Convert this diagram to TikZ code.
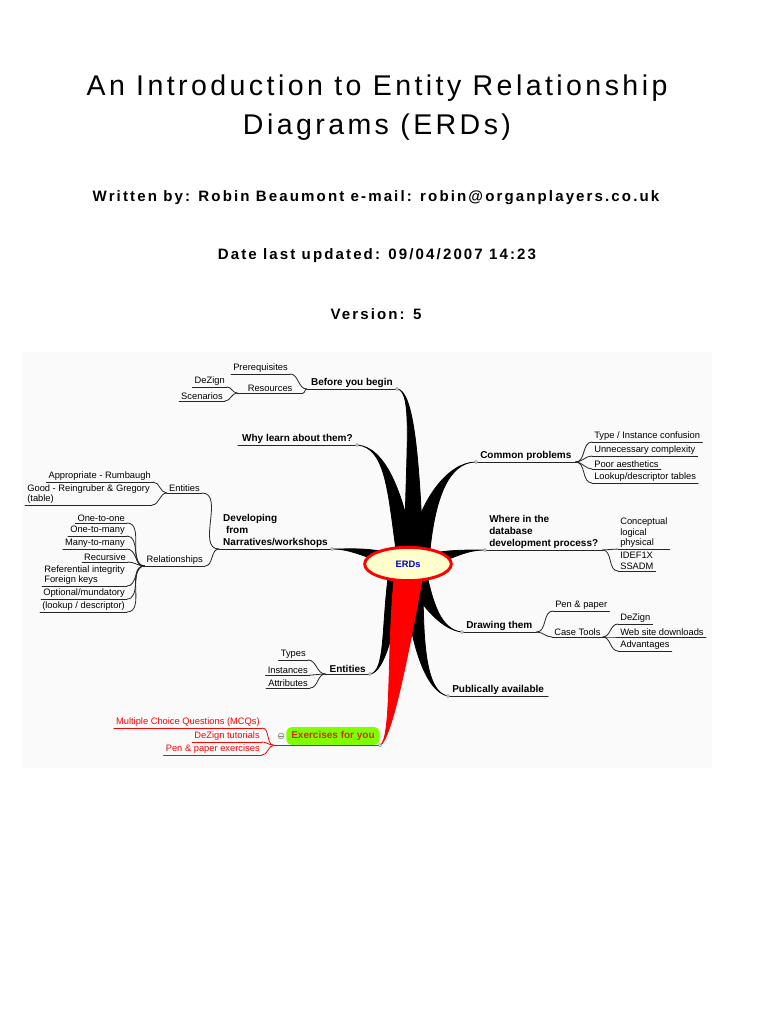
\documentclass[tikz,border=0pt]{standalone}
\usepackage{fontspec}
\setmainfont{Liberation Sans}
\newfontfamily\titlefont[LetterSpace=12]{Liberation Sans}
\newfontfamily\headfont[LetterSpace=14]{Liberation Sans Bold}
\usetikzlibrary{calc,shapes.geometric}
\definecolor{exgreen}{RGB}{128,255,0}
\definecolor{exred}{RGB}{204,51,0}
\definecolor{erdfill}{RGB}{255,255,204}
\newcommand{\trunk}[6][black]{\filldraw[#1,line width=0.6pt] (#2) .. controls (#3) and ($(#4)+0.8*(#6)$) .. ($(erd)+(#5)+(#6)$) -- ($(erd)+(#5)-(#6)$) .. controls ($(#4)-0.8*(#6)$) and (#3) .. (#2) -- cycle;}

\begin{document}
\begin{tikzpicture}[x=0.75pt,y=-0.75pt,line cap=round,
  leaf/.style={font=\fontsize{7}{7.8}\selectfont,inner xsep=1.5pt,inner ysep=1pt,align=left},
  topic/.style={font=\bfseries\fontsize{7.5}{9}\selectfont,inner xsep=3pt,inner ysep=1pt,align=left},
  ul/.style={append after command={(\tikzlastnode.south west) edge[draw=#1,line width=0.6pt] (\tikzlastnode.south east)}},
  ul/.default=black!85,
  link/.style={line width=0.6pt,black!85},
  knob/.style={draw=gray,fill=white,line width=0.4pt}]
\useasboundingbox (0,0) rectangle (768,1024);
\fill[black!2] (22,352) rectangle (712,768);
\node[font=\titlefont\fontsize{21.4}{29.3}\selectfont,align=center] (title) at (377,108) {An Introduction to Entity Relationship\\Diagrams (ERDs)};
\node[font=\headfont\fontsize{11.3}{13}\selectfont,anchor=base] (author) at (376,201) {Written by: Robin Beaumont e-mail: robin@organplayers.co.uk};
\node[font=\headfont\fontsize{11.3}{13}\selectfont,anchor=base] (date) at (377,259) {Date last updated: 09/04/2007 14:23};
\node[font=\headfont\fontsize{11.3}{13}\selectfont,anchor=base] (version) at (376,319) {Version: 5};
\coordinate (erd) at (408,564);
\node[topic,ul,anchor=south east] (before) at (397,389) {Before you begin};
\node[topic,ul,anchor=south east] (why) at (357,445) {Why learn about them?};
\node[topic,ul,anchor=south east] (develop) at (332,549) {Developing\\\ from\\Narratives/workshops};
\node[topic,ul,anchor=south east] (entities) at (370,674) {Entities};
\node[topic,ul,anchor=south west] (common) at (476,462) {Common problems};
\node[topic,ul,anchor=south west] (where) at (485,550) {Where in the\\database\\development process?};
\node[topic,ul,anchor=south west] (drawing) at (462,632) {Drawing them};
\node[topic,ul,anchor=south west] (public) at (448,696) {Publically available};
\node[topic,fill=exgreen,rounded corners=4pt,text=exred,minimum width=70pt,minimum height=13.5pt] (exer) at (333,736) {Exercises for you};
\draw[red,line width=0.6pt] (exer.south west) -- (exer.south east);
\node[leaf,ul,anchor=south east] (prereq) at (290,374) {Prerequisites};
\node[leaf,ul,anchor=south east,minimum width=49pt] (resources) at (303,393) {Resources};
\node[leaf,ul,anchor=south east] (dezign) at (227,387) {DeZign};
\node[leaf,ul,anchor=south east] (scenarios) at (225,401) {Scenarios};
\node[leaf,ul,anchor=south east] (entity) at (202,493) {Entities};
\node[leaf,ul,anchor=south east] (approp) at (153,482) {Appropriate - Rumbaugh};
\node[leaf,ul,anchor=south east] (good) at (152,505) {Good - Reingruber \& Gregory\\(table)};
\node[leaf,ul,anchor=south east] (relation) at (205,566) {Relationships};
\node[leaf,ul,anchor=south east] (onetoone) at (127,523) {One-to-one};
\node[leaf,ul,anchor=south east] (onetomany) at (127,536) {One-to-many};
\node[leaf,ul,anchor=south east] (manytomany) at (127,549) {Many-to-many};
\node[leaf,ul,anchor=south east] (recursive) at (128,562) {Recursive};
\node[leaf,ul,anchor=south east] (refint) at (127,586) {Referential integrity\\Foreign keys};
\node[leaf,ul,anchor=south east] (optional) at (127,599) {Optional/mundatory};
\node[leaf,ul,anchor=south east] (lookup) at (127,612) {(lookup / descriptor)};
\node[leaf,ul,anchor=south east] (types) at (308,660) {Types};
\node[leaf,ul,anchor=south east] (instances) at (310,675) {Instances};
\node[leaf,ul,anchor=south east] (attributes) at (310,688) {Attributes};
\node[leaf,ul=red,text=red,anchor=south east] (mcq) at (262,728) {Multiple Choice Questions (MCQs)};
\node[leaf,ul=red,text=red,anchor=south east] (tutorials) at (262,742) {DeZign tutorials};
\node[leaf,ul=red,text=red,anchor=south east] (penex) at (262,755) {Pen \& paper exercises};
\node[leaf,ul,anchor=south west] (typeinst) at (592,442) {Type / Instance confusion};
\node[leaf,ul,anchor=south west] (complexity) at (592,456) {Unnecessary complexity};
\node[leaf,ul,anchor=south west] (aesthetics) at (592,469) {Poor aesthetics};
\node[leaf,ul,anchor=south west] (tables) at (592,483) {Lookup/descriptor tables};
\node[leaf,ul,anchor=south west] (concept) at (618,549) {Conceptual\\logical\\physical};
\node[leaf,ul,anchor=south west] (idef) at (618,571) {IDEF1X\\SSADM};
\node[leaf,ul,anchor=south west] (pen) at (553,611) {Pen \& paper};
\node[leaf,ul,anchor=south west] (case) at (552,637) {Case Tools};
\node[leaf,ul,anchor=south west] (dezigntool) at (618,624) {DeZign};
\node[leaf,ul,anchor=south west] (web) at (618,637) {Web site downloads};
\node[leaf,ul,anchor=south west] (advantages) at (618,651) {Advantages};
\coordinate (exfork) at ($(exer.south west)+(-12,0)$);
\draw[link] (before.south west) to[out=180,in=0] (prereq.south east);
\draw[link] (before.south west) to[out=180,in=0] (resources.south east);
\draw[link] (resources.south west) to[out=180,in=0] (dezign.south east);
\draw[link] (resources.south west) to[out=180,in=0] (scenarios.south east);
\draw[link] (develop.south west) to[out=180,in=0] (entity.south east);
\draw[link] (develop.south west) to[out=180,in=0] (relation.south east);
\draw[link] (entity.south west) to[out=180,in=0] (approp.south east);
\draw[link] (entity.south west) to[out=180,in=0] (good.south east);
\foreach \leafname in {onetoone,onetomany,manytomany,recursive,refint,optional,lookup}
  \draw[link] (relation.south west) to[out=180,in=0] (\leafname.south east);
\foreach \leafname in {types,instances,attributes}
  \draw[link] (entities.south west) to[out=180,in=0] (\leafname.south east);
\draw[red,line width=0.6pt] (exer.south west) -- (exfork);
\foreach \leafname in {mcq,tutorials,penex}
  \draw[red,line width=0.6pt] (exfork) to[out=180,in=0] (\leafname.south east);
\foreach \leafname in {typeinst,complexity,aesthetics,tables}
  \draw[link] (common.south east) to[out=0,in=180] (\leafname.south west);
\draw[link] (where.south east) -- (concept.south west);
\draw[link] (where.south east) to[out=0,in=180] (idef.south west);
\draw[link] (drawing.south east) to[out=0,in=180] (pen.south west);
\draw[link] (drawing.south east) to[out=0,in=180] (case.south west);
\foreach \leafname in {dezigntool,web,advantages}
  \draw[link] (case.south east) to[out=0,in=180] (\leafname.south west);
\trunk{before.south east}{414,390}{412,460}{6,-14}{9,0}
\trunk{why.south east}{385,447}{395,490}{-3,-14}{9,0}
\trunk{common.south west}{448,462}{427,500}{12,-14}{10,0}
\trunk{develop.south east}{350,549}{362,552}{-28,-8}{0,5}
\trunk{where.south west}{466,550}{454,554}{32,-7}{0,5}
\trunk{entities.south east}{385,672}{388,630}{-12,14}{8,0}
\trunk{drawing.south west}{440,630}{425,600}{10,16}{10,0}
\trunk{public.south west}{425,692}{416,640}{6,16}{9,0}
\trunk[red]{exer.south east}{392,740}{398,650}{0,16}{14,0}
\node[ellipse,draw=red,line width=2.2pt,fill=erdfill,minimum width=65pt,minimum height=25pt,font=\bfseries\fontsize{7}{8}\selectfont,text=blue!80!black] (erds) at (erd) {ERDs};
\foreach \tipname/\tipside in {before/south east,why/south east,develop/south east,entities/south east,common/south west,where/south west,drawing/south west,public/south west,exer/south east}
  \draw[knob] (\tipname.\tipside) circle (1.2pt);
\draw[gray,fill=gray!15,line width=0.4pt] ($(exer.west)+(-5,0)$) circle (2.2pt);
\draw[gray,line width=0.5pt] ($(exer.west)+(-7,0)$) -- ($(exer.west)+(-3,0)$);
\end{tikzpicture}
\end{document}
